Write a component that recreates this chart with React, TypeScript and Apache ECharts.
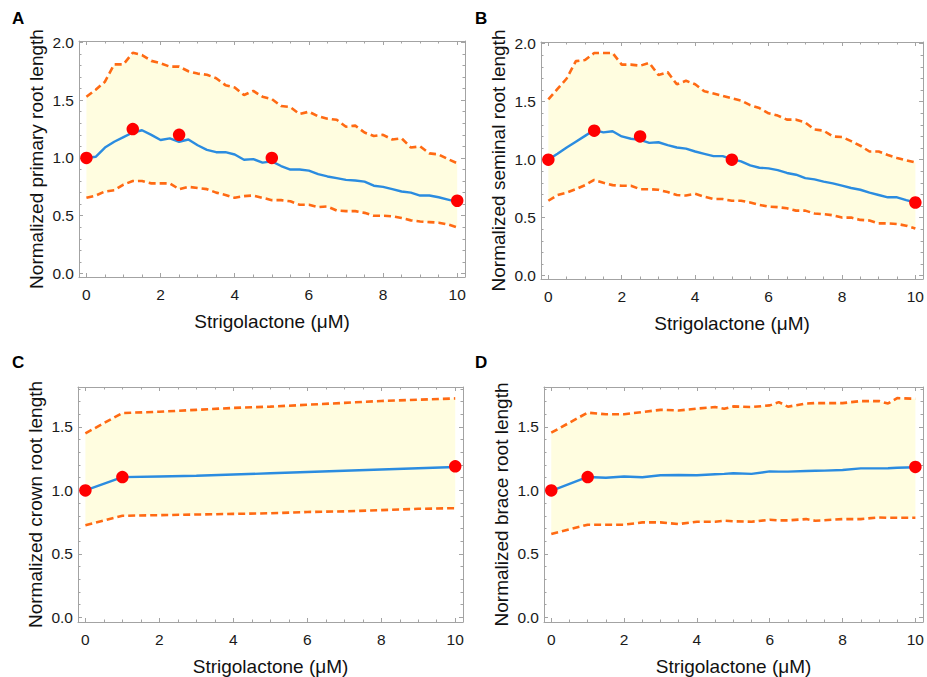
import React, { useEffect, useRef } from "react";
import * as echarts from "echarts";

// ---------- data ----------
const X_FINE = [0, 0.25, 0.5, 0.75, 1, 1.25, 1.5, 1.75, 2, 2.25, 2.5, 2.75, 3, 3.25, 3.5, 3.75, 4, 4.25, 4.5, 4.75, 5, 5.25, 5.5, 5.75, 6, 6.25, 6.5, 6.75, 7, 7.25, 7.5, 7.75, 8, 8.25, 8.5, 8.75, 9, 9.25, 9.5, 9.75, 10];

const A_UPPER = [1.53, 1.59, 1.66, 1.81, 1.81, 1.91, 1.89, 1.84, 1.82, 1.79, 1.79, 1.75, 1.73, 1.72, 1.69, 1.63, 1.61, 1.545, 1.58, 1.53, 1.51, 1.45, 1.44, 1.38, 1.40, 1.36, 1.34, 1.33, 1.27, 1.28, 1.22, 1.19, 1.20, 1.16, 1.17, 1.09, 1.10, 1.04, 1.03, 0.99, 0.955];
const A_MEAN = [1.0, 1.01, 1.09, 1.14, 1.18, 1.22, 1.24, 1.20, 1.155, 1.17, 1.14, 1.16, 1.11, 1.07, 1.05, 1.05, 1.03, 0.985, 0.99, 0.96, 0.97, 0.93, 0.90, 0.90, 0.89, 0.86, 0.84, 0.825, 0.81, 0.805, 0.795, 0.76, 0.75, 0.73, 0.71, 0.70, 0.675, 0.675, 0.66, 0.64, 0.62];
const A_LOWER = [0.655, 0.675, 0.71, 0.72, 0.77, 0.80, 0.80, 0.78, 0.78, 0.78, 0.73, 0.75, 0.74, 0.73, 0.70, 0.68, 0.655, 0.67, 0.675, 0.655, 0.635, 0.635, 0.625, 0.595, 0.595, 0.575, 0.58, 0.545, 0.54, 0.54, 0.525, 0.50, 0.50, 0.495, 0.48, 0.46, 0.45, 0.445, 0.44, 0.425, 0.40];
const A_DOT_X = [0, 1.25, 2.5, 5, 10];
const A_DOT_Y = [1.0, 1.25, 1.2, 1.0, 0.63];

const B_UPPER = [1.52, 1.61, 1.70, 1.85, 1.86, 1.92, 1.92, 1.92, 1.82, 1.82, 1.81, 1.835, 1.73, 1.755, 1.65, 1.68, 1.65, 1.59, 1.57, 1.55, 1.53, 1.51, 1.47, 1.445, 1.40, 1.38, 1.345, 1.345, 1.32, 1.26, 1.25, 1.20, 1.195, 1.16, 1.12, 1.07, 1.07, 1.04, 1.015, 0.995, 0.975];
const B_MEAN = [1.0, 1.05, 1.105, 1.155, 1.205, 1.255, 1.235, 1.245, 1.20, 1.18, 1.17, 1.145, 1.15, 1.125, 1.105, 1.095, 1.07, 1.05, 1.03, 1.03, 1.005, 0.985, 0.95, 0.93, 0.925, 0.91, 0.885, 0.87, 0.84, 0.83, 0.81, 0.795, 0.775, 0.755, 0.74, 0.715, 0.695, 0.675, 0.675, 0.65, 0.63];
const B_LOWER = [0.645, 0.695, 0.715, 0.745, 0.78, 0.825, 0.80, 0.78, 0.775, 0.775, 0.745, 0.745, 0.74, 0.72, 0.695, 0.69, 0.705, 0.68, 0.66, 0.66, 0.645, 0.645, 0.63, 0.61, 0.595, 0.59, 0.58, 0.56, 0.56, 0.535, 0.53, 0.52, 0.50, 0.50, 0.48, 0.475, 0.45, 0.45, 0.445, 0.43, 0.405];
const B_DOT_X = [0, 1.25, 2.5, 5, 10];
const B_DOT_Y = [1.0, 1.25, 1.2, 1.0, 0.63];

const C_X = [0, 1, 2, 3, 4, 5, 6, 7, 8, 9, 10];
const C_UPPER = [1.45, 1.61, 1.62, 1.635, 1.65, 1.66, 1.675, 1.69, 1.705, 1.715, 1.725];
const C_MEAN = [1.0, 1.105, 1.11, 1.115, 1.125, 1.135, 1.145, 1.155, 1.165, 1.175, 1.185];
const C_LOWER = [0.725, 0.80, 0.805, 0.81, 0.815, 0.82, 0.83, 0.835, 0.845, 0.855, 0.86];
const C_DOT_X = [0, 1, 10];
const C_DOT_Y = [1.0, 1.105, 1.19];

const D_X = [0, 1, 1.5, 2, 2.5, 3, 3.5, 4, 4.5, 4.75, 5, 5.5, 6, 6.25, 6.5, 7, 7.25, 7.5, 8, 8.5, 9, 9.25, 9.5, 10];
const D_UPPER = [1.455, 1.613, 1.60, 1.60, 1.618, 1.635, 1.63, 1.645, 1.657, 1.644, 1.662, 1.657, 1.67, 1.696, 1.66, 1.685, 1.688, 1.688, 1.688, 1.704, 1.704, 1.685, 1.727, 1.722];
const D_MEAN = [0.997, 1.106, 1.10, 1.11, 1.104, 1.12, 1.122, 1.12, 1.127, 1.13, 1.135, 1.13, 1.15, 1.148, 1.148, 1.153, 1.155, 1.156, 1.161, 1.174, 1.174, 1.175, 1.179, 1.182];
const D_LOWER = [0.657, 0.73, 0.73, 0.73, 0.748, 0.748, 0.735, 0.753, 0.753, 0.761, 0.757, 0.753, 0.769, 0.764, 0.764, 0.774, 0.761, 0.765, 0.774, 0.774, 0.787, 0.784, 0.784, 0.784];
const D_DOT_X = [0, 1, 10];
const D_DOT_Y = [1.0, 1.105, 1.185];

// tick labels
const X_MAJOR = [0, 2, 4, 6, 8, 10];
const X_MINOR = [0.5, 1, 1.5, 2.5, 3, 3.5, 4.5, 5, 5.5, 6.5, 7, 7.5, 8.5, 9, 9.5];
const Y_MAJOR_AB = [0, 0.5, 1, 1.5, 2];
const Y_MAJOR_CD = [0, 0.5, 1, 1.5];
const Y_MINOR_AB = [0.1, 0.2, 0.3, 0.4, 0.6, 0.7, 0.8, 0.9, 1.1, 1.2, 1.3, 1.4, 1.6, 1.7, 1.8, 1.9];
const Y_MINOR_CD = [0.1, 0.2, 0.3, 0.4, 0.6, 0.7, 0.8, 0.9, 1.1, 1.2, 1.3, 1.4, 1.6, 1.7, 1.8];

const X_NAME = "Strigolactone (μM)";
const Y_NAMES = [
  "Normalized primary root length",
  "Normalized seminal root length",
  "Normalized crown root length",
  "Normalized brace root length",
];
const LETTERS = ["A", "B", "C", "D"];

// ---------- styles ----------
const FONT = "Liberation Sans, Arial, sans-serif";
const FRAME = "#a3a3a3";
const ORANGE = "#ff6a13";
const BLUE = "#2b8ce0";
const RED = "#ff0000";
const FILL = "#fffde0";

const zip = (xs: number[], ys: number[]) => xs.map((x, i) => [x, ys[i]]);

const PANELS = [
  { x: X_FINE, up: A_UPPER, mean: A_MEAN, low: A_LOWER, dx: A_DOT_X, dy: A_DOT_Y, ymin: -0.03, ymax: 2.012, ymaj: Y_MAJOR_AB, ymin2: Y_MINOR_AB, grid: { left: 79, top: 41, width: 386, height: 236 }, letter: [12, 20] },
  { x: X_FINE, up: B_UPPER, mean: B_MEAN, low: B_LOWER, dx: B_DOT_X, dy: B_DOT_Y, ymin: -0.03, ymax: 2.015, ymaj: Y_MAJOR_AB, ymin2: Y_MINOR_AB, grid: { left: 541, top: 42, width: 385, height: 237 }, letter: [475, 20] },
  { x: C_X, up: C_UPPER, mean: C_MEAN, low: C_LOWER, dx: C_DOT_X, dy: C_DOT_Y, ymin: -0.037, ymax: 1.815, ymaj: Y_MAJOR_CD, ymin2: Y_MINOR_CD, grid: { left: 78, top: 387, width: 385, height: 237 }, letter: [12, 364] },
  { x: D_X, up: D_UPPER, mean: D_MEAN, low: D_LOWER, dx: D_DOT_X, dy: D_DOT_Y, ymin: -0.037, ymax: 1.815, ymaj: Y_MAJOR_CD, ymin2: Y_MINOR_CD, grid: { left: 544, top: 387, width: 384, height: 237 }, letter: [475, 364] },
];

const XMIN = -0.2;
const XMAX = 10.21;

function buildOption() {
  const grid: any[] = [];
  const xAxis: any[] = [];
  const yAxis: any[] = [];
  const series: any[] = [];
  const graphic: any[] = [];

  PANELS.forEach((p, i) => {
    grid.push({ ...p.grid, containLabel: false });
    const lineOn = { show: true, onZero: false, lineStyle: { color: FRAME, width: 1 } };
    const lineOff = { show: false, onZero: false };
    const tick = (vals: number[], len: number) => ({
      show: true,
      inside: true,
      length: len,
      customValues: vals,
      lineStyle: { color: FRAME, width: 1 },
    });
    const baseX = { gridIndex: i, type: "value", min: XMIN, max: XMAX, splitLine: { show: false } };
    const baseY = { gridIndex: i, type: "value", min: p.ymin, max: p.ymax, splitLine: { show: false } };
    xAxis.push(
      {
        ...baseX,
        position: "bottom",
        axisLine: lineOn,
        axisTick: tick(X_MAJOR, 4),
        axisLabel: { show: true, customValues: X_MAJOR, margin: 9, fontSize: 15.5, color: "#1a1a1a", fontFamily: FONT, formatter: (v: number) => String(v) },
        name: X_NAME,
        nameLocation: "middle",
        nameGap: 35,
        nameTextStyle: { fontSize: 19, color: "#111", fontFamily: FONT },
      },
      { ...baseX, position: "bottom", axisLine: lineOff, axisTick: tick(X_MINOR, 2.5), axisLabel: { show: false } },
      { ...baseX, position: "top", axisLine: lineOn, axisTick: tick(X_MAJOR, 4), axisLabel: { show: false } },
      { ...baseX, position: "top", axisLine: lineOff, axisTick: tick(X_MINOR, 2.5), axisLabel: { show: false } }
    );
    yAxis.push(
      {
        ...baseY,
        position: "left",
        axisLine: lineOn,
        axisTick: tick(p.ymaj, 4),
        axisLabel: { show: true, customValues: p.ymaj, margin: 5, fontSize: 15.5, color: "#1a1a1a", fontFamily: FONT, formatter: (v: number) => v.toFixed(1) },
        name: Y_NAMES[i],
        nameLocation: "middle",
        nameGap: 33,
        nameTextStyle: { fontSize: 19, color: "#111", fontFamily: FONT },
      },
      { ...baseY, position: "left", axisLine: lineOff, axisTick: tick(p.ymin2, 2.5), axisLabel: { show: false } },
      { ...baseY, position: "right", axisLine: lineOn, axisTick: tick(p.ymaj, 4), axisLabel: { show: false } },
      { ...baseY, position: "right", axisLine: lineOff, axisTick: tick(p.ymin2, 2.5), axisLabel: { show: false } }
    );
    const xi = i * 4;
    const yi = i * 4;
    const upPts = zip(p.x, p.up);
    const lowPts = zip(p.x, p.low);
    series.push(
      {
        type: "custom",
        xAxisIndex: xi,
        yAxisIndex: yi,
        z: 1,
        silent: true,
        data: [[p.x[0], p.low[0]]],
        renderItem: (params: any, api: any) => {
          const pts = upPts.map((d) => api.coord(d)).concat(lowPts.slice().reverse().map((d) => api.coord(d)));
          return { type: "polygon", shape: { points: pts }, style: { fill: FILL, stroke: null } };
        },
      },
      {
        type: "line",
        xAxisIndex: xi,
        yAxisIndex: yi,
        z: 3,
        data: upPts,
        symbol: "none",
        lineStyle: { color: ORANGE, width: 2.6, type: [7, 4] },
      },
      {
        type: "line",
        xAxisIndex: xi,
        yAxisIndex: yi,
        z: 3,
        data: lowPts,
        symbol: "none",
        lineStyle: { color: ORANGE, width: 2.6, type: [7, 4] },
      },
      {
        type: "line",
        xAxisIndex: xi,
        yAxisIndex: yi,
        z: 4,
        data: zip(p.x, p.mean),
        symbol: "none",
        lineStyle: { color: BLUE, width: 2.4 },
      },
      {
        type: "scatter",
        xAxisIndex: xi,
        yAxisIndex: yi,
        z: 5,
        data: zip(p.dx, p.dy),
        symbolSize: 12.5,
        itemStyle: { color: RED, opacity: 1 },
      }
    );
    graphic.push({
      type: "text",
      left: p.letter[0],
      top: p.letter[1] - 10,
      style: { text: LETTERS[i], fontSize: 17, fontWeight: "bold", fill: "#000", fontFamily: FONT },
    });
  });

  return { animation: false, backgroundColor: "#ffffff", grid, xAxis, yAxis, series, graphic };
}

export default function App() {
  const ref = useRef<HTMLDivElement>(null);
  useEffect(() => {
    document.body.style.margin = "0";
    if (!ref.current) return;
    const chart = echarts.init(ref.current, undefined, { renderer: "svg" });
    chart.setOption(buildOption() as any);
    return () => chart.dispose();
  }, []);
  return <div ref={ref} style={{ position: "absolute", left: 0, top: 0, width: 927, height: 677 }} />;
}
